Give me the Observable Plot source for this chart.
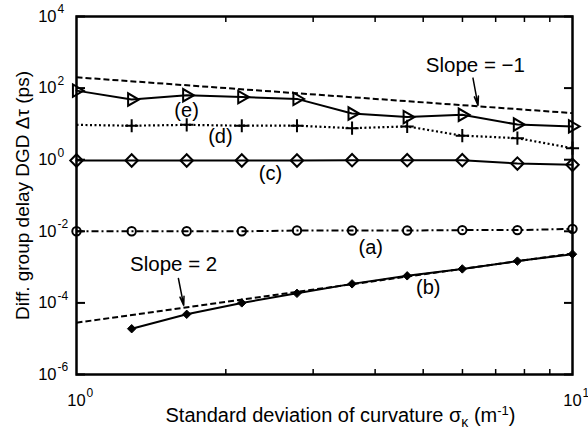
<!DOCTYPE html>
<html>
<head>
<meta charset="utf-8">
<script src="https://cdn.jsdelivr.net/npm/d3@7"></script>
<script src="https://cdn.jsdelivr.net/npm/@observablehq/plot@0.6"></script>
<style>
  html, body { margin: 0; padding: 0; background: #fff; }
  #chart { width: 588px; height: 432px; }
</style>
</head>
<body>
<div id="chart"></div>
<script>
// ---- data ----
const xs = [1, 1.292, 1.668, 2.154, 2.783, 3.594, 4.642, 5.995, 7.743, 10];
const seriesE = [85, 48, 63, 56, 50, 19.5, 15.5, 18, 9.6, 8.5];
const seriesD = [9.4, 8.9, 9.4, 8.9, 8.9, 7.6, 8.5, 4.7, 4.0, 2.1];
const seriesC = [0.95, 0.95, 0.95, 0.95, 0.95, 0.97, 0.97, 0.97, 0.78, 0.72];
const seriesA = [0.0100, 0.0100, 0.0100, 0.0100, 0.0105, 0.0105, 0.0105, 0.0108, 0.0108, 0.0117];
const xsB = [1.292, 1.668, 2.154, 2.783, 3.594, 4.642, 5.995, 7.743, 10];
const seriesB = [1.9e-5, 4.8e-5, 1.0e-4, 1.85e-4, 3.4e-4, 5.7e-4, 8.9e-4, 1.47e-3, 2.3e-3];
const slopeX = [1, 10];
const slopeNegY = [200, 20];
const slopePosY = [2.8e-5, 2.4e-3];

const yTicks = [1e-6, 1e-4, 1e-2, 1e0, 1e2, 1e4];
const yTickExp = ["-6", "-4", "-2", "0", "2", "4"];
const xTicks = [1, 10];
const xTickExp = ["0", "1"];
const xMinorTicks = [2, 3, 4, 5, 6, 7, 8, 9];

const seriesLabels = [
  {text: "(e)", x: 1.667, y: 23.7},
  {text: "(d)", x: 1.95, y: 4.45},
  {text: "(c)", x: 2.46, y: 0.41},
  {text: "(a)", x: 3.92, y: 3.5e-3},
  {text: "(b)", x: 5.12, y: 2.7e-4}
];
const slopeLabels = [
  {text: "Slope = \u22121", x: 6.37, y: 427},
  {text: "Slope = 2", x: 1.57, y: 1.18e-3}
];
const arrows = [
  {x1: 6.30, y1: 190, x2: 6.45, y2: 33},
  {x1: 1.605, y1: 4.8e-4, x2: 1.645, y2: 8.5e-5}
];
const xTitle = "Standard deviation of curvature \u03c3\u03ba (m-1)";
const yTitle = "Diff. group delay DGD \u0394\u03c4 (ps)";

// ---- build tables ----
const rows = (xv, yv) => xv.map((x, i) => ({x, y: yv[i]}));
const rowsE = rows(xs, seriesE);
const rowsD = rows(xs, seriesD);
const rowsC = rows(xs, seriesC);
const rowsA = rows(xs, seriesA);
const rowsB = rows(xsB, seriesB);
const rowsNeg = rows(slopeX, slopeNegY);
const rowsPos = rows(slopeX, slopePosY);
const yLab = yTicks.map((v, i) => ({y: v, e: yTickExp[i]}));
const xLab = xTicks.map((v, i) => ({x: v, e: xTickExp[i]}));

const FONT = "Liberation Sans, Arial, Helvetica, sans-serif";

const chart = Plot.plot({
  width: 588,
  height: 432,
  marginLeft: 76,
  marginRight: 16,
  marginTop: 16,
  marginBottom: 58,
  style: {fontFamily: FONT, background: "white", color: "black"},
  x: {type: "log", domain: [1, 10]},
  y: {type: "log", domain: [1e-6, 1e4]},
  marks: [
    // inward ticks
    Plot.axisX(xMinorTicks, {anchor: "bottom", tickSize: -5, tickFormat: () => "", label: null, strokeWidth: 1.5}),
    Plot.axisX(xMinorTicks, {anchor: "top", tickSize: -5, tickFormat: () => "", label: null, strokeWidth: 1.5}),
    Plot.axisY(yTicks, {anchor: "left", tickSize: -9, tickFormat: () => "", label: null, strokeWidth: 2}),
    Plot.axisY(yTicks, {anchor: "right", tickSize: -9, tickFormat: () => "", label: null, strokeWidth: 2}),
    // slope reference lines
    Plot.line(rowsNeg, {x: "x", y: "y", stroke: "black", strokeWidth: 2, strokeDasharray: "6,3", strokeLinecap: "butt"}),
    Plot.line(rowsPos, {x: "x", y: "y", stroke: "black", strokeWidth: 2, strokeDasharray: "6,3", strokeLinecap: "butt"}),
    // series
    Plot.line(rowsE, {x: "x", y: "y", stroke: "black", strokeWidth: 2}),
    Plot.dot(rowsE, {x: "x", y: "y", symbol: "triangle", rotate: 90, r: 4.6, stroke: "black", strokeWidth: 2, fill: "none"}),
    Plot.line(rowsD, {x: "x", y: "y", stroke: "black", strokeWidth: 2.2, strokeDasharray: "2,2.5", strokeLinecap: "butt"}),
    Plot.dot(rowsD.slice(1), {x: "x", y: "y", symbol: "plus", r: 4.3, stroke: "black", strokeWidth: 2, strokeLinecap: "butt"}),
    Plot.line(rowsC, {x: "x", y: "y", stroke: "black", strokeWidth: 2}),
    Plot.dot(rowsC, {x: "x", y: "y", symbol: "diamond2", r: 5.6, stroke: "black", strokeWidth: 2, fill: "none"}),
    Plot.line(rowsA, {x: "x", y: "y", stroke: "black", strokeWidth: 2, strokeDasharray: "7,3,2,3", strokeLinecap: "butt"}),
    Plot.dot(rowsA, {x: "x", y: "y", symbol: "circle", r: 4.2, stroke: "black", strokeWidth: 2, fill: "none"}),
    Plot.line(rowsB, {x: "x", y: "y", stroke: "black", strokeWidth: 2}),
    Plot.dot(rowsB, {x: "x", y: "y", symbol: "diamond2", r: 3.8, fill: "black", stroke: "black", strokeWidth: 1}),
    // frame
    Plot.frame({stroke: "black", strokeWidth: 2.5}),
    // annotations
    Plot.arrow(arrows, {x1: "x1", y1: "y1", x2: "x2", y2: "y2", stroke: "black", strokeWidth: 1.5, headLength: 11, headAngle: 26}),
    Plot.text(slopeLabels, {x: "x", y: "y", text: "text", fontSize: 20.5, fill: "black"}),
    Plot.text(seriesLabels, {x: "x", y: "y", text: "text", fontSize: 20, fill: "black"}),
    // tick labels
    Plot.text(yLab, {x: () => 1, y: "y", text: () => "10", dx: -20, textAnchor: "end", fontSize: 16.5, fill: "black"}),
    Plot.text(yLab, {x: () => 1, y: "y", text: "e", dx: -19, dy: -7, textAnchor: "start", fontSize: 12, fill: "black"}),
    Plot.text(xLab, {x: "x", y: () => 1e-6, text: () => "10", dy: 26, textAnchor: "middle", fontSize: 16.5, fill: "black"}),
    Plot.text(xLab, {x: "x", y: () => 1e-6, text: "e", dx: 10, dy: 19, textAnchor: "start", fontSize: 12, fill: "black"}),
    // axis titles
    Plot.text([xTitle], {frameAnchor: "bottom", dy: 47, dx: 16, text: d => d, textAnchor: "middle", fontSize: 20, fill: "black"}),
    Plot.text([yTitle], {frameAnchor: "left", dx: -54, rotate: -90, text: d => d, textAnchor: "middle", fontSize: 19, fill: "black"})
  ]
});

// subscript / superscript in the x title
chart.querySelectorAll("text").forEach(t => {
  if (t.textContent === xTitle) {
    t.textContent = "";
    const ns = "http://www.w3.org/2000/svg";
    const add = (s, opts = {}) => {
      const ts = document.createElementNS(ns, "tspan");
      ts.textContent = s;
      if (opts.dy) ts.setAttribute("dy", opts.dy);
      if (opts.fs) ts.setAttribute("font-size", opts.fs);
      t.appendChild(ts);
    };
    add("Standard deviation of curvature \u03c3");
    add("\u03ba", {dy: "5", fs: "14"});
    add(" (m", {dy: "-5"});
    add("-1", {dy: "-7", fs: "13"});
    add(")", {dy: "7"});
  }
});

document.getElementById("chart").appendChild(chart);
</script>
</body>
</html>
